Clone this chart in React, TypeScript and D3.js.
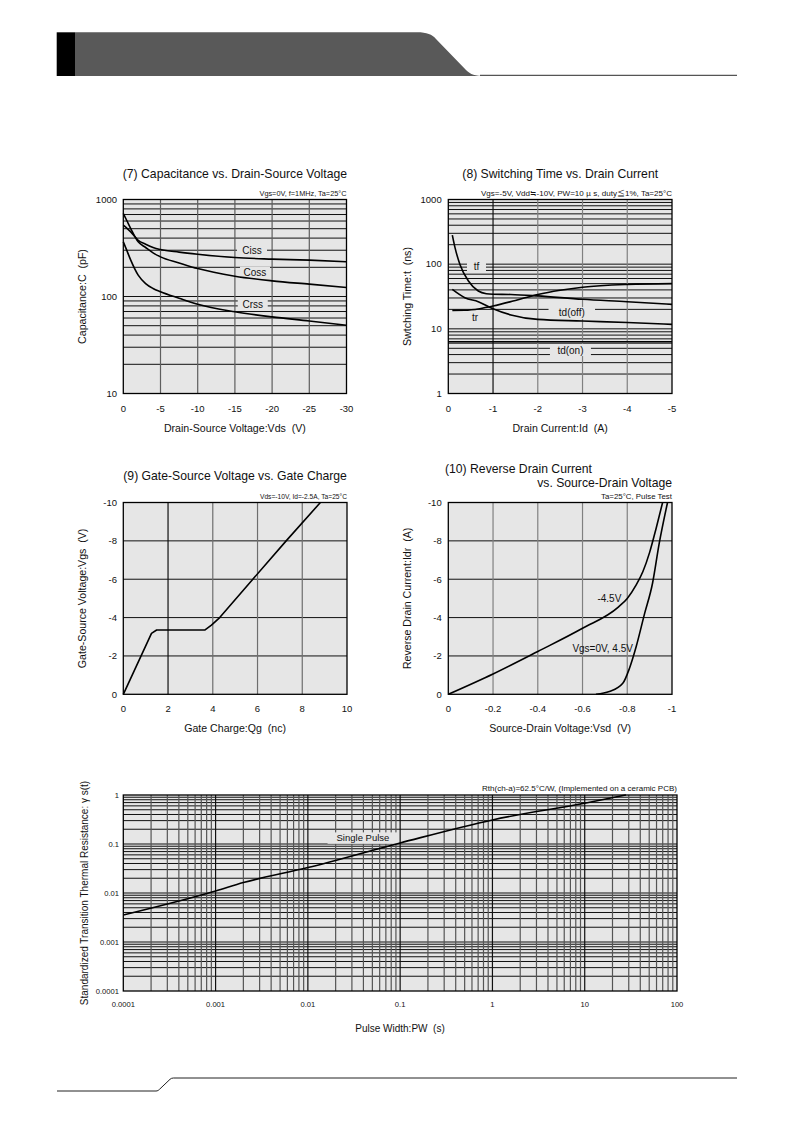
import React from 'react';
import * as d3 from 'd3';

const FONT = '"Liberation Sans", Arial, Helvetica, sans-serif';
const CJK = '"Noto Sans CJK JP", "Liberation Sans", sans-serif';
const BG = '#e6e6e6';
const GRID_H = '#111111';
const GRID_V = '#5e5e5e';

// ---------- (7) Capacitance vs. Drain-Source Voltage ----------
const capVds = [0, -0.5, -1, -2, -3, -4, -5, -7.5, -10, -15, -20, -25, -30];
const capCiss = [544, 505, 464, 380, 346, 320, 305, 287, 273, 252, 243, 237, 228];
const capCoss = [717, 600, 502, 366, 320, 282, 256, 222, 194, 162, 145, 134, 124];
const capCrss = [366, 295, 237, 166, 136, 121, 112, 96, 83, 69.5, 61.6, 56, 50.6];
const capXTicks = [0, -5, -10, -15, -20, -25, -30];
const capYTicks = [10, 100, 1000];

// ---------- (8) Switching Time vs. Drain Current ----------
const swTfId = [-0.09, -0.15, -0.26, -0.45, -0.67, -0.85, -1.0, -1.4, -2, -3, -4, -5];
const swTf = [281, 180, 99, 55, 38.4, 34.9, 34.3, 34, 32.3, 28.6, 26.3, 23.9];
const swTrId = [-0.09, -0.37, -0.7, -1.0, -1.5, -2, -2.5, -3, -4, -5];
const swTr = [19.3, 19.4, 20.5, 22.5, 27.5, 34, 39.5, 44, 48.5, 50];
const swOffId = [-0.09, -0.37, -0.67, -1.0, -1.4, -2, -3, -4, -5];
const swOff = [40.7, 30.3, 26.3, 20.5, 16.4, 14, 13.2, 12.5, 11.7];
const swOnId = [0, -5];
const swOn = [6.3, 6.3];
const swXTicks = [0, -1, -2, -3, -4, -5];
const swYTicks = [1, 10, 100, 1000];

// ---------- (9) Gate-Source Voltage vs. Gate Charge ----------
const gcQg = [0, 1.26, 1.49, 3.64, 3.94, 4.31, 5.79, 7.28, 8.81];
const gcVgs = [0, -3.18, -3.35, -3.35, -3.61, -4, -6, -8, -10];
const gcXTicks = [0, 2, 4, 6, 8, 10];
const gcYTicks = [0, -2, -4, -6, -8, -10];

// ---------- (10) Reverse Drain Current vs. Source-Drain Voltage ----------
const rdVsd45 = [0, -0.2, -0.4, -0.6, -0.76, -0.8, -0.84, -0.87, -0.9, -0.93, -0.958];
const rdIdr45 = [0, -1.06, -2.23, -3.44, -4.55, -5.0, -5.7, -6.4, -7.4, -8.7, -10];
const rdVsd0 = [-0.66, -0.72, -0.78, -0.81, -0.84, -0.876, -0.913, -0.943, -0.98];
const rdIdr0 = [0, -0.14, -0.57, -1.36, -2.49, -4.14, -5.79, -7.88, -10];
const rdXTicks = [0, -0.2, -0.4, -0.6, -0.8, -1];
const rdYTicks = [0, -2, -4, -6, -8, -10];

// ---------- (11) Transient thermal resistance ----------
const thPw = [0.0001, 0.001, 0.002, 0.01, 0.1, 1, 10, 28];
const thR = [0.00356, 0.011, 0.0163, 0.033, 0.105, 0.31, 0.68, 1.0];
const thXTicks = [0.0001, 0.001, 0.01, 0.1, 1, 10, 100];
const thYTicks = [0.0001, 0.001, 0.01, 0.1, 1];

function logGrid(lo: number, hi: number): number[] {
  const out: number[] = [];
  for (let d = lo; d < hi * 0.999; d *= 10) {
    for (let m = 1; m < 10; m++) out.push(+(d * m).toPrecision(6));
  }
  out.push(hi);
  return out;
}

function zip(a: number[], b: number[]): [number, number][] {
  return a.map((v, i) => [v, b[i]] as [number, number]);
}

const fmt = (v: number) => (Object.is(v, -0) ? '0' : String(v));
const PRE: React.CSSProperties = { whiteSpace: 'pre' };

interface PanelProps {
  xs: any;
  ys: any;
  xGrid: number[];
  yGrid: number[];
  xTicks: number[];
  yTicks: number[];
  tickSize: number;
  xTickY: number;
  yTickX: number;
  xLabel: string;
  xLabelX?: number;
  xLabelY: number;
  yLabel: string;
  yLabelX: number;
  labelSize?: number;
  cond: React.ReactNode;
  condY: number;
  condSize?: number;
  condLength?: number;
  vColor?: (v: number) => string;
  hColor?: (v: number) => string;
  children?: React.ReactNode;
}

function Panel(p: PanelProps) {
  const [x0, x1] = p.xs.range();
  const [yb, yt] = p.ys.range();
  const vColor = p.vColor || (() => GRID_V);
  const hColor = p.hColor || (() => GRID_H);
  const ls = p.labelSize ?? 10.6;
  const condExtra = p.condLength ? { textLength: p.condLength, lengthAdjust: 'spacingAndGlyphs' } : {};
  return (
    <g>
      <rect x={x0} y={yt} width={x1 - x0} height={yb - yt} fill={BG} />
      {p.yGrid.map((v, i) => (
        <line key={'h' + i} x1={x0} x2={x1} y1={p.ys(v)} y2={p.ys(v)} stroke={hColor(v)} strokeWidth={1} />
      ))}
      {p.xGrid.map((v, i) => (
        <line key={'v' + i} x1={p.xs(v)} x2={p.xs(v)} y1={yt} y2={yb} stroke={vColor(v)} strokeWidth={1.2} />
      ))}
      {p.children}
      <rect x={x0} y={yt} width={x1 - x0} height={yb - yt} fill="none" stroke="#000" strokeWidth={1.3} />
      {p.xTicks.map((v, i) => (
        <text key={'xt' + i} x={p.xs(v)} y={p.xTickY} fontSize={p.tickSize} textAnchor="middle" fontFamily={FONT} fill="#111">
          {fmt(v)}
        </text>
      ))}
      {p.yTicks.map((v, i) => (
        <text key={'yt' + i} x={p.yTickX} y={p.ys(v)} dy="0.35em" fontSize={p.tickSize} textAnchor="end" fontFamily={FONT} fill="#111">
          {fmt(v)}
        </text>
      ))}
      <text
        x={p.xLabelX ?? (x0 + x1) / 2}
        y={p.xLabelY}
        fontSize={ls}
        textAnchor="middle"
        fontFamily={FONT}
        fill="#111"
        xmlSpace="preserve"
        style={PRE}
      >
        {p.xLabel}
      </text>
      <text
        transform={`translate(${p.yLabelX},${(yt + yb) / 2}) rotate(-90)`}
        dy="0.35em"
        fontSize={ls}
        textAnchor="middle"
        fontFamily={FONT}
        fill="#111"
        xmlSpace="preserve"
        style={PRE}
      >
        {p.yLabel}
      </text>
      <text
        x={p.condLength ? x1 - p.condLength : x1}
        y={p.condY}
        fontSize={p.condSize ?? 7.2}
        textAnchor={p.condLength ? 'start' : 'end'}
        fontFamily={FONT}
        fill="#111"
        xmlSpace="preserve"
        style={PRE}
        {...(condExtra as any)}
      >
        {p.cond}
      </text>
    </g>
  );
}

function BoxLabel({ x, y, text, size = 10, bg = true }: { x: number; y: number; text: string; size?: number; bg?: boolean }) {
  const w = text.length * size * 0.55 + 8;
  return (
    <g>
      {bg && <rect x={x - w / 2} y={y - size * 0.6} width={w} height={size * 1.2} fill={BG} />}
      <text x={x} y={y} dy="0.35em" fontSize={size} textAnchor="middle" fontFamily={FONT} fill="#111">
        {text}
      </text>
    </g>
  );
}

const TITLE = 12.2;

export default function App() {
  // (7)
  const c7x = d3.scaleLinear().domain([0, -30]).range([123.3, 346.5]);
  const c7y = d3.scaleLog().domain([10, 1000]).range([393.5, 199.5]);
  const c7line = d3
    .line<[number, number]>()
    .x((d) => c7x(d[0]))
    .y((d) => c7y(d[1]))
    .curve(d3.curveMonotoneX);

  // (8)
  const c8x = d3.scaleLinear().domain([0, -5]).range([448.3, 672]);
  const c8y = d3.scaleLog().domain([1, 1000]).range([393.5, 199.5]);
  const c8line = d3
    .line<[number, number]>()
    .x((d) => c8x(d[0]))
    .y((d) => c8y(d[1]))
    .curve(d3.curveMonotoneX);

  // (9)
  const c9x = d3.scaleLinear().domain([0, 10]).range([123.3, 347]);
  const c9y = d3.scaleLinear().domain([0, -10]).range([694.3, 502.5]);
  const c9line = d3
    .line<[number, number]>()
    .x((d) => c9x(d[0]))
    .y((d) => c9y(d[1]))
    .curve(d3.curveLinear);

  // (10)
  const c10x = d3.scaleLinear().domain([0, -1]).range([448.3, 672]);
  const c10y = d3.scaleLinear().domain([0, -10]).range([694.3, 502.5]);
  const c10line = d3
    .line<[number, number]>()
    .x((d) => c10x(d[0]))
    .y((d) => c10y(d[1]))
    .curve(d3.curveMonotoneX);

  // (11)
  const c11x = d3.scaleLog().domain([0.0001, 100]).range([123.3, 677]);
  const c11y = d3.scaleLog().domain([0.0001, 1]).range([991, 795]);
  const c11line = d3
    .line<[number, number]>()
    .x((d) => c11x(d[0]))
    .y((d) => c11y(d[1]))
    .curve(d3.curveMonotoneX);

  const decadeSet = new Set(thXTicks.map((v) => +v.toPrecision(6)));

  const curve = { fill: 'none', stroke: '#000', strokeWidth: 1.6, strokeLinejoin: 'round' as const };

  return (
    <svg
      width={794}
      height={1123}
      viewBox="0 0 794 1123"
      style={{ position: 'absolute', left: 0, top: 0, display: 'block', background: '#fff' }}
    >
      {/* header */}
      <rect x={56.7} y={32.3} width={18.3} height={43.7} fill="#000" />
      <path d="M75,32.3 H417 C427,32.3 432,34.5 436,39 L466,70 C470.5,74.5 475,76 485,76 H75 Z" fill="#595959" />
      <line x1={480} x2={737} y1={75.3} y2={75.3} stroke="#555" strokeWidth={1.2} />

      {/* footer */}
      <path
        d="M57,1091 H156 C157.5,1091 158.5,1090.3 159.5,1089.3 L170,1079.3 C171,1078.4 172,1078 173.5,1078 H737"
        fill="none"
        stroke="#222"
        strokeWidth={1}
      />

      {/* (7) */}
      <text x={234.9} y={177.5} fontSize={TITLE} textAnchor="middle" fontFamily={FONT} fill="#111">
        (7) Capacitance vs. Drain-Source Voltage
      </text>
      <Panel
        xs={c7x}
        ys={c7y}
        xGrid={capXTicks.slice(1, -1)}
        yGrid={logGrid(10, 1000)}
        xTicks={capXTicks}
        yTicks={capYTicks}
        tickSize={9.5}
        xTickY={411.7}
        yTickX={117}
        xLabel="Drain-Source Voltage:Vds  (V)"
        xLabelY={431.7}
        yLabel="Capacitance:C  (pF)"
        yLabelX={82}
        cond="Vgs=0V, f=1MHz, Ta=25°C"
        condY={195.7}
        condLength={87}
      >
        <BoxLabel x={c7x(-17.3)} y={c7y(300)} text="Ciss" />
        <BoxLabel x={c7x(-17.7)} y={c7y(176)} text="Coss" />
        <BoxLabel x={c7x(-17.4)} y={c7y(82)} text="Crss" />
        <path d={c7line(zip(capVds, capCiss)) || ''} {...curve} />
        <path d={c7line(zip(capVds, capCoss)) || ''} {...curve} />
        <path d={c7line(zip(capVds, capCrss)) || ''} {...curve} />
      </Panel>

      {/* (8) */}
      <text x={560.2} y={177.5} fontSize={TITLE} textAnchor="middle" fontFamily={FONT} fill="#111">
        (8) Switching Time vs. Drain Current
      </text>
      <Panel
        xs={c8x}
        ys={c8y}
        xGrid={swXTicks.slice(1, -1)}
        yGrid={logGrid(1, 1000)}
        xTicks={swXTicks}
        yTicks={swYTicks}
        tickSize={9.5}
        xTickY={411.7}
        yTickX={441.7}
        xLabel="Drain Current:Id  (A)"
        xLabelY={431.7}
        yLabel="Swtching Time:t  (ns)"
        yLabelX={407}
        cond={
          <>
            {'Vgs=-5V, Vdd'}
            <tspan fontFamily={CJK}>≒</tspan>
            {'-10V, PW=10 '}
            <tspan fontFamily={CJK}>μ</tspan>
            {' s, duty'}
            <tspan fontFamily={CJK}>≦</tspan>
            {'1%, Ta=25°C'}
          </>
        }
        condY={195.7}
        condSize={7.4}
        condLength={191}
        vColor={(v) => (v === -1 ? '#111' : '#808080')}
      >
        <BoxLabel x={c8x(-0.63)} y={c8y(91.4)} text="tf" />
        <BoxLabel x={c8x(-0.6)} y={c8y(14.9)} text="tr" bg={false} />
        <BoxLabel x={c8x(-2.76)} y={c8y(17.6)} text="td(off)" />
        <BoxLabel x={c8x(-2.73)} y={c8y(4.7)} text="td(on)" />
        <path d={c8line(zip(swTfId, swTf)) || ''} {...curve} />
        <path d={c8line(zip(swTrId, swTr)) || ''} {...curve} />
        <path d={c8line(zip(swOffId, swOff)) || ''} {...curve} />
        <path d={c8line(zip(swOnId, swOn)) || ''} {...curve} />
      </Panel>

      {/* (9) */}
      <text x={235.1} y={480} fontSize={TITLE} textAnchor="middle" fontFamily={FONT} fill="#111">
        (9) Gate-Source Voltage vs. Gate Charge
      </text>
      <Panel
        xs={c9x}
        ys={c9y}
        xGrid={gcXTicks.slice(1, -1)}
        yGrid={gcYTicks.slice(1, -1)}
        xTicks={gcXTicks}
        yTicks={gcYTicks}
        tickSize={9.5}
        xTickY={711.7}
        yTickX={117}
        xLabel="Gate Charge:Qg  (nc)"
        xLabelY={731.7}
        yLabel="Gate-Source Voltage:Vgs  (V)"
        yLabelX={82}
        cond="Vds=-10V, Id=-2.5A, Ta=25°C"
        condY={498.7}
        condLength={87}
        vColor={(v) => (v === 2 ? '#111' : '#6e6e6e')}
      >
        <path d={c9line(zip(gcQg, gcVgs)) || ''} {...curve} />
      </Panel>

      {/* (10) */}
      <text x={445} y={473.3} fontSize={TITLE} textAnchor="start" fontFamily={FONT} fill="#111">
        (10) Reverse Drain Current
      </text>
      <text x={672} y={487} fontSize={TITLE} textAnchor="end" fontFamily={FONT} fill="#111">
        vs. Source-Drain Voltage
      </text>
      <Panel
        xs={c10x}
        ys={c10y}
        xGrid={rdXTicks.slice(1, -1)}
        yGrid={rdYTicks.slice(1, -1)}
        xTicks={rdXTicks}
        yTicks={rdYTicks}
        tickSize={9.5}
        xTickY={711.7}
        yTickX={441.7}
        xLabel="Source-Drain Voltage:Vsd  (V)"
        xLabelY={731.7}
        yLabel="Reverse Drain Current:Idr  (A)"
        yLabelX={407}
        cond="Ta=25°C, Pulse Test"
        condY={498.7}
        condLength={71}
        vColor={() => '#808080'}
      >
        <path d={c10line(zip(rdVsd45, rdIdr45)) || ''} {...curve} />
        <path d={c10line(zip(rdVsd0, rdIdr0)) || ''} {...curve} />
        <BoxLabel x={c10x(-0.72)} y={c10y(-5.02)} text="-4.5V" bg={false} />
        <BoxLabel x={c10x(-0.69)} y={c10y(-2.41)} text="Vgs=0V, 4.5V" bg={false} />
      </Panel>

      {/* (11) */}
      <Panel
        xs={c11x}
        ys={c11y}
        xGrid={logGrid(0.0001, 100).slice(1, -1)}
        yGrid={logGrid(0.0001, 1).slice(1, -1)}
        xTicks={thXTicks}
        yTicks={thYTicks}
        tickSize={7.6}
        xTickY={1007}
        yTickX={119}
        xLabel="Pulse Width:PW  (s)"
        xLabelX={400}
        xLabelY={1031.5}
        yLabel="Standardized Transition Thermal Resistance: γ s(t)"
        yLabelX={84}
        labelSize={10}
        cond="Rth(ch-a)=62.5°C/W, (Implemented on a ceramic PCB)"
        condY={791}
        condSize={7.8}
        condLength={195}
        vColor={(v) => (decadeSet.has(+v.toPrecision(6)) ? '#111' : '#555')}
      >
        <BoxLabel x={c11x(0.0395)} y={c11y(0.132)} text="Single Pulse" size={9.5} />
        <path d={c11line(zip(thPw, thR)) || ''} {...curve} />
      </Panel>
    </svg>
  );
}
